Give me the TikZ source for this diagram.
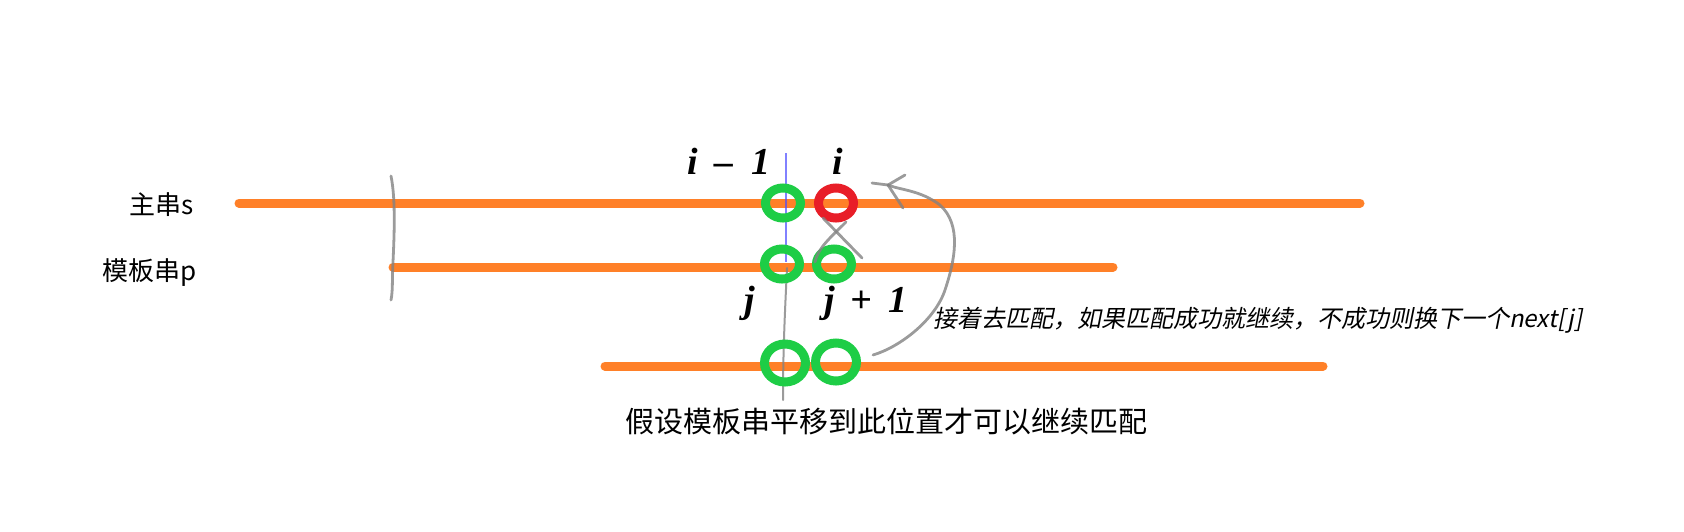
\documentclass[tikz,border=0pt]{standalone}
\usepackage{fontspec}
\setmainfont{Liberation Sans}
\newfontfamily\cjk{Noto Sans CJK SC}
\newfontfamily\cjkit[FakeSlant=0.2]{Noto Sans CJK SC}
\newfontfamily\handf{Liberation Serif}
\usetikzlibrary{shapes.geometric}
\definecolor{lineor}{RGB}{255,128,40}
\definecolor{cgreen}{RGB}{30,205,70}
\definecolor{cred}{RGB}{232,30,40}
\definecolor{pen}{RGB}{130,130,130}
\begin{document}
\begin{tikzpicture}[x=1pt,y=-1pt,
  strline/.style={line width=9pt,color=lineor,line cap=round},
  ring/.style={ellipse,draw=#1,line width=9pt,minimum width=35pt,minimum height=30pt,inner sep=0pt},
  bigring/.style={ellipse,draw=#1,line width=9pt,minimum width=41pt,minimum height=38pt,inner sep=0pt},
  pencil/.style={color=pen,line width=2.8pt,line cap=round,line join=round,opacity=0.8},
  sidelbl/.style={font=\fontsize{26}{30}\selectfont\cjk,inner sep=0pt},
  hand/.style={font=\fontsize{38}{40}\selectfont\handf\bfseries\itshape,inner sep=0pt}]
\useasboundingbox (0,0) rectangle (1684,531);
% strings
\coordinate (s1) at (239,203); \coordinate (s2) at (1360,203);
\coordinate (p1) at (393,267); \coordinate (p2) at (1113,267);
\coordinate (q1) at (605,366); \coordinate (q2) at (1323,366);
\draw[strline] (s1) -- (s2);
\draw[strline] (p1) -- (p2);
\draw[strline] (q1) -- (q2);
% labels
\node[sidelbl] (ls) at (162,205) {主串s};
\node[sidelbl] (lp) at (150,273) {模板串p};
% blue guide
\coordinate (b1) at (786,153); \coordinate (b2) at (786,262);
\draw[color=blue!70,line width=1.2pt,opacity=0.7] (b1) -- (b2);
% gray bracket
\coordinate (k1) at (391,176); \coordinate (k2) at (391,300);
\draw[pencil] (k1) .. controls (396,200) and (394,240) .. (393,262) .. controls (392,280) and (393,290) .. (k2);
% gray vertical
\coordinate (g1) at (787,268); \coordinate (g2) at (783,400);
\draw[pencil,line width=2pt] (g1) .. controls (785,310) and (783,350) .. (g2);
% rings
\node[ring=cgreen] (a1) at (783,203) {};
\node[ring=cred] (r1) at (836,203) {};
\node[ring=cgreen] (a2) at (782,264) {};
\node[ring=cgreen] (a3) at (834,264) {};
\node[bigring=cgreen] (c1) at (785,363) {};
\node[bigring=cgreen] (c2) at (836,362) {};
% cross mark
\coordinate (x1) at (823,218); \coordinate (x2) at (862,258);
\coordinate (x3) at (846,222); \coordinate (x4) at (815,262);
\draw[pencil] (x1) -- (x2);
\draw[pencil] (x3) .. controls (830,238) and (818,248) .. (x4);
% curved arrow
\coordinate (t0) at (873,355); \coordinate (tip) at (888,185);
\draw[pencil] (t0) .. controls (900,347) and (935,320) .. (945,290)
  .. controls (955,260) and (962,225) .. (940,205)
  .. controls (920,190) and (900,190) .. (tip);
\coordinate (h1) at (905,175); \coordinate (h2) at (903,208); \coordinate (h3) at (872,183);
\draw[pencil] (h1) -- (tip) -- (h2);
\draw[pencil] (h3) -- (tip);
% index labels
\node[hand] (li1) at (729,161) {i\hspace{16pt}–\hspace{18pt}1};
\node[hand] (li) at (838,161) {i};
\node[hand] (lj) at (750,303) {j};
\node[hand] (lj1) at (866,303) {j\hspace{16pt}+\hspace{16pt}1};
% texts
\node[font=\fontsize{24}{28}\selectfont\cjkit,inner sep=0pt,anchor=west] (note) at (933,320) {接着去匹配，如果匹配成功就继续，不成功则换下一个next[j]};
\node[font=\fontsize{29}{32}\selectfont\cjk,inner sep=0pt] (bottom) at (886,421) {假设模板串平移到此位置才可以继续匹配};
\end{tikzpicture}
\end{document}
